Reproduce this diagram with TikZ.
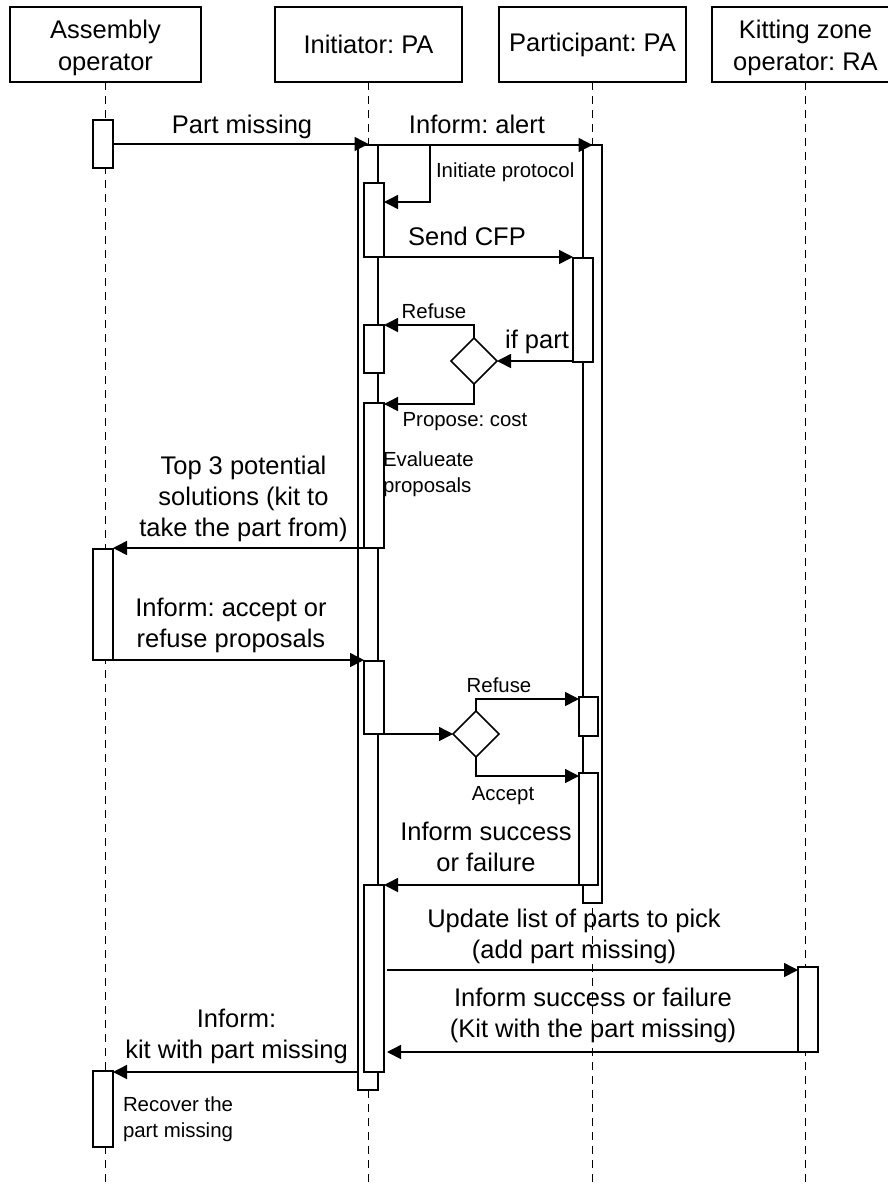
\documentclass[tikz,border=0pt]{standalone}
\usepackage{fontspec}
\setmainfont{Liberation Sans}
\usetikzlibrary{arrows.meta,shapes.geometric}
\frenchspacing
\begin{document}
\begin{tikzpicture}[x=1pt,y=-1pt,
  every node/.style={inner sep=0pt, outer sep=0pt},
  lbl/.style={font=\fontsize{25.5}{31}\selectfont\frenchspacing, align=center},
  slbl/.style={font=\fontsize{20.4}{26}\selectfont\frenchspacing, align=left},
  head/.style={draw, line width=1.5pt, fill=white, minimum width=187pt, minimum height=75pt, font=\fontsize{25.5}{32}\selectfont\frenchspacing, align=center},
  life/.style={dash pattern=on 8pt off 6pt, line width=1.4pt},
  act/.style={draw, fill=white, line width=1.5pt, anchor=north west},
  dec/.style={draw, fill=white, line width=1.5pt, diamond, minimum width=46pt, minimum height=46pt},
  msg/.style={line width=1.5pt, -{Triangle[length=14pt,width=14pt]}}
]
\useasboundingbox (0,0) rectangle (888,1186);
\clip (0,0) rectangle (888,1186);
\coordinate (bot) at (0,1186);

% headers
\node[head, minimum width=191pt] (hasm) at (105.5,44.5) {\raisebox{-9.5pt}[0pt][0pt]{\begin{tabular}{@{}c@{}}Assembly\\operator\end{tabular}}};
\node[head] (hini) at (368.5,44.5) {Initiator: PA};
\node[head] (hpar) at (592.5,44.5) {Participant: PA};
\node[head] (hkit) at (805.5,44.5) {\raisebox{-9.5pt}[0pt][0pt]{\begin{tabular}{@{}c@{}}Kitting zone\\operator: RA\end{tabular}}};

% lifelines
\draw[life] (hasm.south) -- (hasm.south |- bot);
\draw[life] (hini.south) -- (hini.south |- bot);
\draw[life] (hpar.south) -- (hpar.south |- bot);
\draw[life] (hkit.south) -- (hkit.south |- bot);

% outer activations
\node[act, minimum width=20pt, minimum height=945pt] (iniO) at (358,145) {};
\node[act, minimum width=19pt, minimum height=758pt] (parO) at (583,145) {};

% initiator inner activations
\node[act, minimum width=20pt, minimum height=74pt] (a1) at (364,183) {};
\node[act, minimum width=20pt, minimum height=48pt] (a2) at (364,325) {};
\node[act, minimum width=20pt, minimum height=145pt] (a3) at (364,403) {};
\node[act, minimum width=20pt, minimum height=73pt] (a4) at (364,661) {};
\node[act, minimum width=20pt, minimum height=187pt] (a5) at (364,885) {};

% participant inner activations
\node[act, minimum width=20pt, minimum height=104pt] (p1) at (573,258) {};
\node[act, minimum width=19pt, minimum height=39pt] (p2) at (579,697) {};
\node[act, minimum width=19pt, minimum height=112pt] (p3) at (579,773) {};

% assembly operator activations
\node[act, minimum width=20pt, minimum height=48pt] (s1) at (93,120) {};
\node[act, minimum width=20pt, minimum height=111pt] (s2) at (93,549) {};
\node[act, minimum width=20pt, minimum height=76pt] (s3) at (93,1071) {};

% kitting activation
\node[act, minimum width=20pt, minimum height=85pt] (k1) at (798,967) {};

% decisions
\node[dec] (d1) at (474,361) {};
\node[dec] (d2) at (476,734) {};

% messages
\draw[msg] (s1.east) -- (s1.east -| hini.south);
\node[lbl, anchor=base] (tpm) at (242,133) {Part missing};

\draw[msg] (iniO.north east) -- (iniO.north east -| hpar.south);
\node[lbl, anchor=base] (tal) at (477,133) {Inform: alert};

\coordinate (loop) at (430,202);
\draw[msg] (iniO.north east) -| (loop) -- (loop -| a1.east);
\node[slbl, anchor=base west] (tip) at (436,177) {Initiate protocol};

\draw[msg] (a1.south east) -- (a1.south east -| p1.west);
\node[lbl, anchor=base] (tcfp) at (467,245) {Send CFP};

\draw[msg] (d1.east -| p1.west) -- (d1.east);
\node[lbl, anchor=base] (tif) at (537,348) {if part};

\draw[msg] (d1.north) |- (a2.north east);
\node[slbl, anchor=base] (tref1) at (434,318) {Refuse};

\draw[msg] (d1.south) |- ([yshift=-1pt]a3.north east);
\node[slbl, anchor=base] (tprop) at (465,426) {Propose: cost};

\node[slbl, anchor=base west] (teval) at (383,492) {Evalueate\\proposals};

\draw[msg] (a3.south east) -- (a3.south east -| s2.east);
\node[lbl, anchor=base] (ttop) at (243.5,536) {Top 3 potential\\solutions (kit to\\take the part from)};

\draw[msg] (s2.south east) -- (s2.south east -| a4.west);
\node[lbl, anchor=base] (tacc) at (231,647) {Inform: accept or\\refuse proposals};

\draw[msg] (a4.south east) -- (a4.south east -| d2.west);

\draw[msg] (d2.north) |- ([yshift=-2pt]p2.north west);
\node[slbl, anchor=base] (tref2) at (499,692) {Refuse};

\draw[msg] (d2.south) |- ([yshift=-3pt]p3.north west);
\node[slbl, anchor=base] (tacpt) at (503,800) {Accept};

\draw[msg] (p3.south east) -- (p3.south east -| a5.east);
\node[lbl, anchor=base] (tsf) at (486,871) {Inform success\\or failure};

\coordinate (u) at (387,970);
\draw[msg] (u) -- (u -| k1.west);
\node[lbl, anchor=base] (tupd) at (574,958) {Update list of parts to pick\\(add part missing)};

\draw[msg] (k1.south west) -- (k1.south west -| u);
\node[lbl, anchor=base] (tkit) at (593,1037) {Inform success or failure\\(Kit with the part missing)};

\draw[msg] (a5.south -| iniO.west) -- (a5.south -| s3.east);
\node[lbl, anchor=base] (tinf) at (236.5,1058) {Inform:\\kit with part missing};

\node[slbl, anchor=base west] (trec) at (123,1137) {Recover the\\part missing};
\end{tikzpicture}
\end{document}
